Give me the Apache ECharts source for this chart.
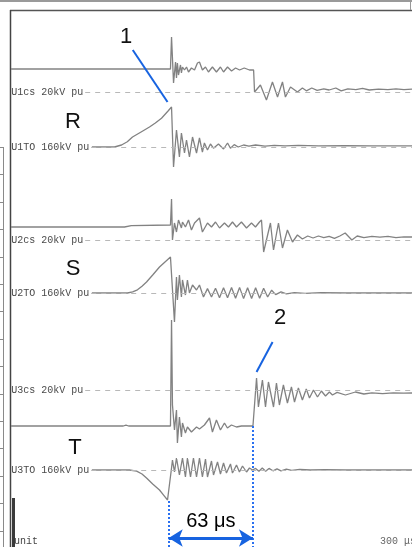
<!DOCTYPE html>
<html>
<head>
<meta charset="utf-8">
<script src="https://cdn.jsdelivr.net/npm/echarts@6/dist/echarts.min.js"></script>
<style>
  html, body { margin: 0; padding: 0; background: #fff; }
  #chart { width: 412px; height: 547px; }
</style>
</head>
<body>
<div id="chart"></div>
<script>
// Recorder time window, µs
const T_START = 0;
const T_END = 300;

// Instants marked under the T phase: arc extinction and the recovery jump
const T_EVENT_1 = 118;
const T_EVENT_2 = 181;

// Channel captions as printed by the recorder
const channelNames = ['U1cs 20kV pu', 'U1TO 160kV pu', 'U2cs 20kV pu', 'U2TO 160kV pu', 'U3cs 20kV pu', 'U3TO 160kV pu'];
const phaseNames = ['R', 'S', 'T'];

// [time µs, value pu] for each channel
const u1cs = [[0,0.575],[119.3,0.575],[120.1,1.375],[121.6,0.225],[123.1,0.75],[123.8,0.35],[124.5,0.725],[125.3,0.425],[126.8,0.675],[127.5,0.475],[128.3,0.625],[129.8,0.55],[131.3,0.625],[132.8,0.5],[135,0.6],[137.3,0.55],[139.5,0.725],[141,0.75],[143.2,0.55],[145.5,0.625],[147.7,0.5],[150.7,0.625],[153.7,0.5],[156.7,0.625],[159,0.5],[162,0.625],[165,0.525],[168,0.6],[171,0.55],[174.5,0.6],[178.4,0.55],[181.5,0.55],[182.2,0.0],[186.6,0.175],[191.1,-0.2],[195.6,0.25],[199.4,-0.125],[203.1,0.25],[205.3,-0.125],[209.1,0.125],[214.3,0.0],[218,0.1],[221,0.03],[225,0.1],[229,0.04],[234,0.08],[238,0.05],[243,0.1],[247,0.03],[252,0.08],[258,0.06],[263,0.09],[268,0.05],[275,0.07],[282,0.06],[288,0.08],[294,0.06],[300,0.07]];

const u1to = [[60.5,0],[77.4,0],[82.7,0.05],[87,0.13],[90.9,0.25],[97,0.37],[103.6,0.5],[108,0.6],[112.6,0.72],[117.5,0.9],[120.1,1.0],[121.6,-0.5],[123.8,0.425],[126,-0.25],[127.5,0.35],[129.8,-0.15],[131.3,0.175],[133.5,-0.25],[135.8,0.25],[138.8,-0.15],[141,0.225],[143.2,-0.125],[144.7,0.1],[147,-0.075],[149.2,0.075],[151.5,-0.03],[155.2,0.075],[159,-0.05],[162,0.1],[164.2,-0.03],[167,0.06],[170,0.0],[174,0.05],[178,0.02],[183,0.05],[190,0.02],[197,0.04],[205,0.03],[215,0.04],[230,0.03],[250,0.035],[270,0.03],[300,0.03]];

const u2cs = [[0,0.325],[84.9,0.325],[90,0.36],[119.3,0.375],[120.1,1.025],[120.8,0.0],[122.3,0.425],[123.8,0.2],[125.3,0.5],[127.5,0.3],[128.3,0.45],[130.5,0.325],[132.8,0.5],[135,0.25],[137.3,0.425],[141,0.55],[143.2,0.2],[147,0.425],[150,0.325],[153,0.45],[156,0.3],[159.7,0.425],[162.7,0.325],[165.7,0.45],[168.7,0.325],[172.4,0.45],[176.2,0.3],[179.9,0.425],[182.9,0.325],[185.9,0.45],[187.4,0.5],[189,-0.3],[194.1,0.425],[196.4,-0.25],[200.1,0.425],[203.1,-0.2],[206.8,0.25],[210.6,-0.05],[214.3,0.125],[218,0.025],[222,0.1],[226,0.05],[230,0.1],[234,0.06],[238,0.09],[242,0.04],[246,0.1],[250,0.175],[255,0.0],[259,0.1],[264,0.06],[270,0.09],[276,0.07],[282,0.09],[288,0.06],[294,0.08],[300,0.075]];

const u2to = [[60.5,0],[87.1,0],[91,0.03],[94.6,0.08],[98,0.17],[101.4,0.275],[106,0.45],[111.1,0.65],[115,0.77],[119.3,0.9],[122.3,-0.725],[123.8,0.4],[124.5,-0.175],[126,0.45],[127.5,-0.1],[128.3,0.325],[130.5,-0.05],[132,0.325],[133.5,0.0],[135.8,0.2],[138.8,0.075],[141,0.2],[144,-0.1],[147,0.11],[150,-0.1],[153,0.12],[156,-0.12],[159,0.13],[162,-0.12],[165,0.14],[168,-0.13],[171,0.14],[174,-0.14],[177,0.13],[180,-0.14],[183,0.13],[186,-0.13],[189,0.12],[192,-0.1],[195,0.07],[198,-0.04],[202,0.03],[206,-0.02],[212,0.01],[220,-0.01],[232,0.01],[250,0.0],[300,0.0]];

const u3cs = [[0,-0.9],[84,-0.9],[86,-0.88],[88,-0.9],[119.3,-0.9],[120.1,1.75],[120.8,-0.375],[122.3,-1.0],[123.8,-0.5],[124.5,-1.325],[126,-0.675],[127.5,-1.175],[128.3,-0.825],[130.5,-1.075],[132,-0.925],[135,-1.05],[138.8,-0.925],[141,-0.975],[144.7,-0.875],[148.5,-0.7],[150.7,-1.05],[153.7,-0.75],[156.7,-1.0],[159.7,-0.825],[161.9,-0.95],[164.9,-0.875],[168.7,-0.925],[172.4,-0.9],[178.4,-0.9],[181,-0.9],[183.7,0.3],[185.1,-0.425],[188.1,0.25],[190.4,-0.425],[192.6,0.2],[196.4,-0.425],[198.6,0.175],[200.8,-0.375],[203.8,0.125],[206.8,-0.325],[209.8,0.075],[212.1,-0.3],[215,0.05],[218,-0.25],[220.9,0.025],[223.3,-0.2],[226.3,0.0],[229.3,-0.175],[232.2,-0.025],[235.3,-0.15],[238.2,-0.05],[240.5,-0.125],[244,-0.06],[250.2,-0.125],[257.7,-0.05],[264,-0.1],[270,-0.07],[278,-0.09],[286,-0.07],[294,-0.08],[300,-0.075]];

const u3to = [[60.5,0],[88.6,0],[94,-0.03],[98,-0.1],[101.4,-0.2],[106,-0.35],[111.1,-0.5],[114,-0.62],[117.1,-0.75],[118,-0.775],[120.1,0.05],[120.8,0.25],[122.3,-0.05],[123.8,0.3],[126,-0.125],[128.3,0.3],[130.5,-0.175],[132,0.3],[134.3,-0.175],[136.5,0.3],[138.8,-0.175],[141,0.3],[143.2,-0.175],[145.5,0.275],[147,-0.175],[150,0.225],[151.5,-0.125],[154.5,0.2],[156.7,-0.1],[159,0.175],[161.2,-0.075],[164.2,0.15],[165.7,-0.075],[168.7,0.125],[170.9,-0.05],[173.2,0.1],[176.2,-0.05],[178.4,0.05],[180.7,0.0],[183,0.04],[185.5,-0.03],[188,0.05],[190.5,-0.03],[193,0.04],[196,-0.02],[199,0.03],[202,-0.02],[206,0.02],[210,-0.01],[216,0.015],[224,0.0],[235,0.01],[250,0.0],[300,0.0]];

const channels = [u1cs, u1to, u2cs, u2to, u3cs, u3to];

// ---- layout of the recorder sheet ----
const W = 412, H = 547;
const PLOT_LEFT = 11, PLOT_TOP = 10;
const PX_PER_PU = 40;
const baselinePx = [92, 147, 240, 293, 390, 470];
const captionEndT = [55.5, 60, 55.5, 60, 55.5, 60];
const TRACE = '#828282';
const BLUE = '#1763e0';
const DOT_BLUE = '#2a70f0';

const yAxes = baselinePx.map(b => ({
  type: 'value', show: false, gridIndex: 0,
  max: (b - PLOT_TOP) / PX_PER_PU,
  min: -(H - b) / PX_PER_PU
}));

function baselineMark(i) {
  return [
    { coord: [captionEndT[i], 0],
      label: { show: true, position: 'start', distance: 2, formatter: channelNames[i],
               fontFamily: 'Liberation Mono', fontSize: 10, color: '#4a4a4a' } },
    { coord: [T_END, 0] }
  ];
}

const minOf = arr => arr.reduce((m, p) => p[1] < m[1] ? p : m, arr[0]);
const maxOf = arr => arr.reduce((m, p) => p[1] > m[1] ? p : m, arr[0]);

const extraMarks = { 1: [], 4: [], 5: [] };

// pointer "1" onto the R-phase voltage peak
const pk1 = maxOf(u1to.filter(p => p[0] <= T_EVENT_1 + 3));
extraMarks[1].push([
  { coord: [pk1[0] - 29, pk1[1] + 1.425], lineStyle: { color: BLUE, width: 2, type: 'solid' }, label: { show: false } },
  { coord: [pk1[0] - 3, pk1[1] + 0.125] }
]);

// pointer "2" onto the T-phase recovery jump
const pk2 = maxOf(u3cs.filter(p => p[0] > T_EVENT_2 - 1));
extraMarks[4].push([
  { coord: [pk2[0] + 12, pk2[1] + 0.9], lineStyle: { color: BLUE, width: 2, type: 'solid' }, label: { show: false } },
  { coord: [pk2[0], pk2[1] + 0.15] }
]);

// dotted time markers and the 63 µs span
const tMin = minOf(u3to);
const axis5Min = yAxes[5].min, axis4Min = yAxes[4].min;
extraMarks[5].push([
  { coord: [T_EVENT_1, tMin[1]], lineStyle: { color: DOT_BLUE, width: 2, type: [2, 2] }, label: { show: false } },
  { coord: [T_EVENT_1, axis5Min] }
]);
extraMarks[4].push([
  { coord: [T_EVENT_2, -0.9], lineStyle: { color: DOT_BLUE, width: 2, type: [2, 2] }, label: { show: false } },
  { coord: [T_EVENT_2, axis4Min] }
]);
extraMarks[5].push([
  { coord: [T_EVENT_1, -1.7], symbol: 'arrow', symbolSize: [13, 14],
    lineStyle: { color: BLUE, width: 3, type: 'solid' },
    label: { show: true, position: 'middle', distance: 7, formatter: (T_EVENT_2 - T_EVENT_1) + ' μs',
             fontFamily: 'Liberation Sans', fontSize: 20, color: '#000' } },
  { coord: [T_EVENT_2, -1.7], symbol: 'arrow', symbolSize: [13, 14] }
]);

const series = channels.map((data, i) => ({
  type: 'line',
  name: channelNames[i],
  xAxisIndex: 0,
  yAxisIndex: i,
  data: data,
  showSymbol: false,
  smooth: false,
  animation: false,
  silent: true,
  lineStyle: { color: TRACE, width: 1.3 },
  markLine: {
    silent: true, animation: false, symbol: 'none',
    lineStyle: { color: '#b8b8b8', width: 1, type: [5, 5] },
    data: [baselineMark(i)].concat(extraMarks[i] || [])
  }
}));

// sheet frame, scale strip and annotations
const graphic = [];
graphic.push({ type: 'line', shape: { x1: 0, y1: 1, x2: W, y2: 1 }, style: { stroke: '#9a9a9a', lineWidth: 2 } });
graphic.push({ type: 'line', shape: { x1: 10, y1: 10.5, x2: W, y2: 10.5 }, style: { stroke: '#555', lineWidth: 1.5 } });
graphic.push({ type: 'line', shape: { x1: 10.5, y1: 10, x2: 10.5, y2: H }, style: { stroke: '#444', lineWidth: 1.5 } });
graphic.push({ type: 'line', shape: { x1: 410.5, y1: 0, x2: 410.5, y2: 10 }, style: { stroke: '#999', lineWidth: 1 } });
graphic.push({ type: 'line', shape: { x1: 3.5, y1: 147, x2: 3.5, y2: H }, style: { stroke: '#8a8a8a', lineWidth: 1 } });
for (let y = 147; y < H; y += 27.4) {
  graphic.push({ type: 'line', shape: { x1: 0, y1: Math.round(y) + 0.5, x2: 3.5, y2: Math.round(y) + 0.5 }, style: { stroke: '#8a8a8a', lineWidth: 1 } });
}
graphic.push({ type: 'rect', shape: { x: 12, y: 498, width: 3, height: H - 498 }, style: { fill: '#3a3a3a' } });
graphic.push({ type: 'text', left: 14, top: 536, style: { text: 'unit', font: '10px "Liberation Mono"', fill: '#444' } });
graphic.push({ type: 'text', left: 380, top: 536, style: { text: '300 μs', font: '10px "Liberation Mono"', fill: '#666' } });

const letterFont = '22px "Liberation Sans", Arial, sans-serif';
const letters = [
  { t: '1', x: 126, y: 37 },
  { t: phaseNames[0], x: 73, y: 122 },
  { t: phaseNames[1], x: 73, y: 269 },
  { t: phaseNames[2], x: 75, y: 448 },
  { t: '2', x: 280, y: 318 }
];
letters.forEach(l => graphic.push({
  type: 'text', x: l.x, y: l.y,
  style: { text: l.t, font: letterFont, fill: '#111', align: 'center', verticalAlign: 'middle' }
}));

const chart = echarts.init(document.getElementById('chart'), null, { renderer: 'canvas' });
chart.setOption({
  backgroundColor: '#fff',
  animation: false,
  grid: { left: PLOT_LEFT, top: PLOT_TOP, right: 0, bottom: 0 },
  xAxis: { type: 'value', min: T_START, max: T_END, show: false },
  yAxis: yAxes,
  series: series,
  graphic: graphic
});
</script>
</body>
</html>
